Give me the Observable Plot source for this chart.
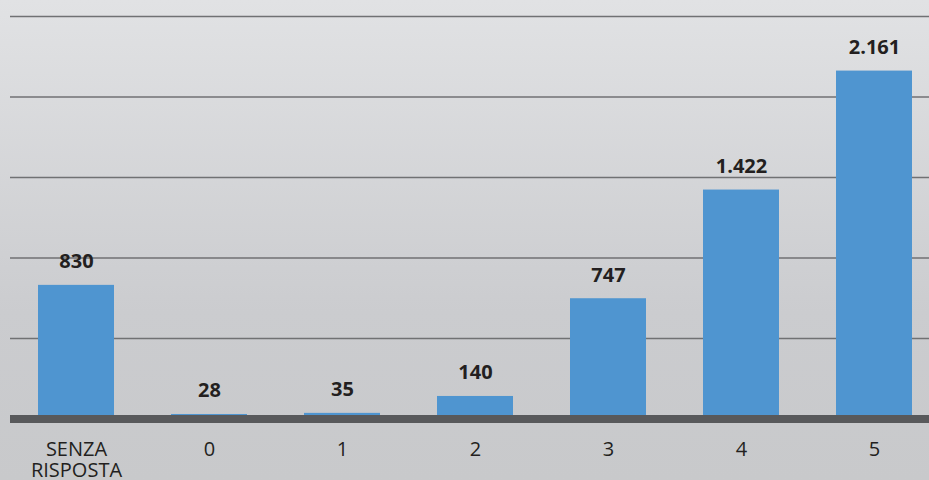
<!DOCTYPE html>
<html>
<head>
<meta charset="utf-8">
<script src="https://cdn.jsdelivr.net/npm/d3@7"></script>
<script src="https://cdn.jsdelivr.net/npm/@observablehq/plot@0.6"></script>
<style>
  html, body { margin: 0; padding: 0; background: #c8c9cb; }
  #chart svg { display: block; }
</style>
</head>
<body>
<div id="chart"></div>
<script>
// Risposte per punteggio (0–5) e senza risposta
const categories = ["SENZA\nRISPOSTA", "0", "1", "2", "3", "4", "5"];
const counts = [830, 28, 35, 140, 747, 1422, 2161];
const gridValues = [500, 1000, 1500, 2000, 2500];

const data = categories.map((c, i) => ({category: c, count: counts[i]}));

const it = d3.formatLocale({decimal: ",", thousands: ".", grouping: [3], currency: ["€", ""]});
const fmt = it.format(",d");

const chart = Plot.plot({
  width: 929,
  height: 480,
  marginLeft: 10,
  marginRight: 0,
  marginTop: 0,
  marginBottom: 62,
  style: {
    background: "linear-gradient(to bottom, #e1e2e4 0%, #cbcccf 65%, #c8c9cb 100%)",
    fontFamily: "'Open Sans', sans-serif",
    color: "#231f20"
  },
  x: {domain: categories, range: [8.4, 940.6], paddingInner: 0.43, paddingOuter: 0.215, axis: null},
  y: {domain: [0, 2500], range: [418.5, 16], axis: null},
  marks: [
    Plot.ruleY(gridValues, {stroke: "#707173", strokeWidth: 1.3}),
    Plot.barY(data, {x: "category", y: "count", fill: "#4f95d0"}),
    Plot.ruleY([0], {stroke: "#58595b", strokeWidth: 8}),
    Plot.text(data, {
      x: "category", y: "count", text: d => fmt(d.count),
      dy: -17, lineAnchor: "bottom",
      fontSize: 20, fontWeight: "bold", fill: "#231f20"
    }),
    Plot.axisX({
      anchor: "bottom", tickSize: 0, tickPadding: 23,
      fontSize: 20, lineHeight: 1.03, lineAnchor: "top",
      fill: "#231f20", label: null
    })
  ]
});

document.getElementById("chart").appendChild(chart);
</script>
</body>
</html>
